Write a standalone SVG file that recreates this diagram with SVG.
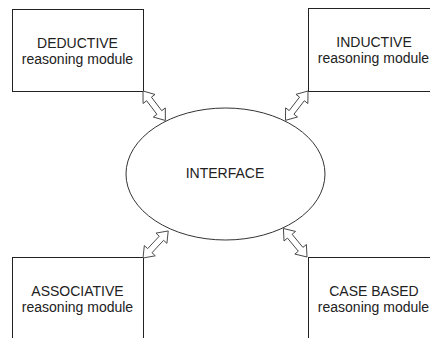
<svg xmlns="http://www.w3.org/2000/svg" width="430" height="338" viewBox="0 0 430 338">
<style>
.box{fill:#fff;stroke:#222;stroke-width:1}
.ell{fill:#fff;stroke:#333;stroke-width:1}
.arr{fill:#fff;stroke:#444;stroke-width:0.9;stroke-linejoin:miter}
text{font-family:"Liberation Sans",Arial,sans-serif;font-size:14px;fill:#222;text-anchor:middle}
</style>
<defs>
<polygon id="dbl" points="0,0 10,-7.5 10,-3 27,-3 27,-7.5 37,0 27,7.5 27,3 10,3 10,7.5"/>
</defs>
<rect width="430" height="338" fill="#fff"/>
<g id="interface">
<ellipse class="ell" cx="225.5" cy="174" rx="99.5" ry="66"/>
<text x="225" y="177.5">INTERFACE</text>
</g>
<g id="deductive">
<rect class="box" x="12.5" y="9.5" width="131" height="82"/>
<text x="77.5" y="47.5">DEDUCTIVE</text>
<text x="77.5" y="63.5">reasoning module</text>
</g>
<g id="inductive">
<rect class="box" x="308.5" y="8.5" width="131" height="83"/>
<text x="374" y="46.5">INDUCTIVE</text>
<text x="373.5" y="62.5">reasoning module</text>
</g>
<g id="associative">
<rect class="box" x="12.5" y="257.5" width="131" height="90"/>
<text x="77.5" y="295.5">ASSOCIATIVE</text>
<text x="77.5" y="311.5">reasoning module</text>
</g>
<g id="casebased">
<rect class="box" x="308.5" y="257.5" width="131" height="90"/>
<text x="374" y="295.5">CASE BASED</text>
<text x="373.5" y="311.5">reasoning module</text>
</g>
<g id="connectors">
<use href="#dbl" class="arr" transform="translate(143,91) rotate(52.8)"/>
<use href="#dbl" class="arr" transform="translate(308,91) rotate(127.5)"/>
<use href="#dbl" class="arr" transform="translate(143,258) rotate(-47)"/>
<use href="#dbl" class="arr" transform="translate(307,257) rotate(-129.6)"/>
</g>
</svg>
